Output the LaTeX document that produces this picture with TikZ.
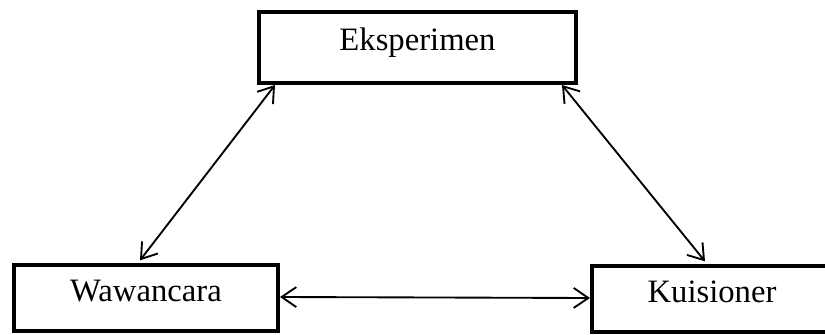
\documentclass[tikz,border=0pt]{standalone}
\usepackage{fontspec}
\setmainfont{Liberation Serif}
\usepackage{xcolor}
\definecolor{cMain}{HTML}{000000}
\usetikzlibrary{positioning,arrows.meta}
\tikzset{
  node-box/.style={draw=cMain,line width=3pt,fill=white,inner sep=0pt,
    minimum width=198pt,minimum height=49.5pt,align=center,
    font=\fontsize{24.5}{29}\selectfont,text height=0.7em,text depth=0.22em},
  node-box-wide/.style={node-box,minimum width=237.75pt,minimum height=53.25pt},
  arrow-both/.style={{Straight Barb[length=11pt,width=15pt]}-{Straight Barb[length=11pt,width=15pt]},
    line width=1.4pt,draw=cMain},
}

\begin{document}
\begin{tikzpicture}[x=0.75pt,y=-0.75pt]
  % page frame, the right box runs past it
  \useasboundingbox (0,0) rectangle (825,335);
  \clip (0,0) rectangle (825,335);

  \node[node-box-wide] (eks) at (417.5,47.5) {Eksperimen};
  \node[node-box] (waw) at (146,298) {Wawancara};
  \node[node-box,minimum width=180pt] (kui) at (712,299) {Kuisioner};

  \draw[arrow-both] ([xshift=13.5pt]eks.south west) -- ([xshift=96pt,yshift=2pt]waw.north west);
  \draw[arrow-both] ([xshift=-12pt]eks.south east) -- ([xshift=86.25pt,yshift=2pt]kui.north west);
  \draw[arrow-both] ([yshift=0.75pt]waw.east) -- ([yshift=0.75pt]kui.west);
\end{tikzpicture}
\end{document}
